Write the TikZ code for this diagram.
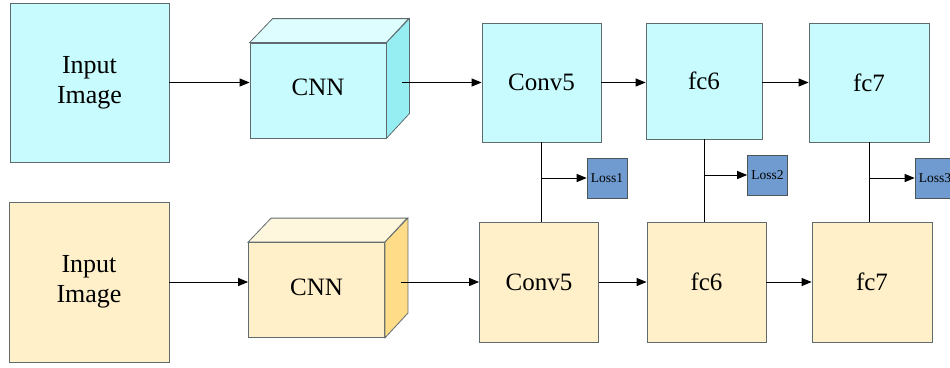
\documentclass[tikz,border=0pt]{standalone}
\usepackage{fontspec}
\setmainfont{Liberation Serif}
\newfontfamily\labelfont{Liberation Serif}
\usetikzlibrary{arrows.meta}
\definecolor{cyanfill}{HTML}{C8FBFD}
\definecolor{cyantop}{HTML}{DDFDFE}
\definecolor{cyanside}{HTML}{96EEF3}
\definecolor{sandfill}{HTML}{FFF0C9}
\definecolor{sandtop}{HTML}{FFF6DE}
\definecolor{sandside}{HTML}{FFDD88}
\definecolor{lossfill}{HTML}{6F9BD0}
\definecolor{edgegray}{HTML}{5F6B6E}
\tikzset{
    block/.style = {draw=edgegray, line width=0.8pt, inner sep=0pt, align=center,
        minimum width=119pt, minimum height=119pt, font=\labelfont\fontsize{25}{30}\selectfont},
    inbox/.style = {block, minimum width=159pt, minimum height=159pt,
        font=\labelfont\fontsize{26}{30}\selectfont},
    cube/.style = {block, minimum width=136pt, minimum height=95pt},
    lossbox/.style = {draw=edgegray!80!black, line width=0.6pt, fill=lossfill, inner sep=0pt,
        minimum width=40pt, minimum height=40pt, font=\labelfont\fontsize{13.5}{14}\selectfont},
}
\begin{document}
\begin{tikzpicture}[x=1pt, y=-1pt, line width=1pt,
        >={Stealth[length=10pt, width=8pt, inset=0pt]}]
    \useasboundingbox (0,0) rectangle (950,367);
    \draw
        (89.5, 82.5) node [inbox, fill=cyanfill] (inA) {Input\\Image}
        (318, 90.5) node [cube, fill=cyanfill] (cnnA) {\raisebox{6pt}{CNN}}
        (541.5, 82.5) node [block, fill=cyanfill] (convA) {Conv5}
        (704, 81) node [block, fill=cyanfill, minimum width=116pt, minimum height=116pt] (fcsixA) {fc6}
        (869, 82.5) node [block, fill=cyanfill, minimum width=120pt] (fcsevenA) {fc7}

        (89, 282) node [inbox, fill=sandfill, minimum width=160pt, minimum height=160pt] (inB) {Input\\Image}
        (316.5, 290) node [cube, fill=sandfill] (cnnB) {\raisebox{6pt}{CNN}}
        (539, 282) node [block, fill=sandfill, minimum height=120pt] (convB) {Conv5}
        (706.5, 282) node [block, fill=sandfill, minimum height=120pt] (fcsixB) {fc6}
        (872, 282) node [block, fill=sandfill, minimum width=120pt, minimum height=120pt] (fcsevenB) {fc7}

        (607, 178) node [lossbox] (lossA) {Loss1}
        (767.5, 175) node [lossbox] (lossB) {Loss2}
        (935, 178) node [lossbox] (lossC) {Loss3}
        ;

    % cube faces
    \filldraw [draw=edgegray, line width=0.8pt, fill=cyantop]
        (cnnA.north west) -- ++(23,-24) -- ++(136,0) -- (cnnA.north east) -- cycle;
    \filldraw [draw=edgegray, line width=0.8pt, fill=cyanside]
        (cnnA.north east) -- ++(23,-24) -- ++(0,95) -- (cnnA.south east) -- cycle;
    \filldraw [draw=edgegray, line width=0.8pt, fill=sandtop]
        (cnnB.north west) -- ++(23,-24) -- ++(136,0) -- (cnnB.north east) -- cycle;
    \filldraw [draw=edgegray, line width=0.8pt, fill=sandside]
        (cnnB.north east) -- ++(23,-24) -- ++(0,95) -- (cnnB.south east) -- cycle;
    \coordinate (cnnAout) at ([xshift=16pt]cnnA.east |- inA.east);
    \coordinate (cnnBout) at ([xshift=16pt]cnnB.east |- inB.east);

    \draw
        (inA.east) edge [->] (cnnA.west |- inA.east)
        (cnnAout) edge [->] (convA.west |- cnnAout)
        (convA.east) edge [->] (fcsixA.west |- convA.east)
        (fcsixA.east |- convA.east) edge [->] (fcsevenA.west)

        (inB.east) edge [->] (cnnB.west |- inB.east)
        (cnnBout) edge [->] (convB.west |- cnnBout)
        (convB) edge [->] (fcsixB)
        (fcsixB) edge [->] (fcsevenB)

        (convA.south) edge (convA.south |- convB.north)
        (fcsixA.south) edge (fcsixA.south |- fcsixB.north)
        (fcsevenA.south) edge (fcsevenA.south |- fcsevenB.north)

        (convA.south |- lossA.west) edge [->] (lossA.west)
        (fcsixA.south |- lossB.west) edge [->] (lossB.west)
        (fcsevenA.south |- lossC.west) edge [->] (lossC.west)
        ;
\end{tikzpicture}
\end{document}
